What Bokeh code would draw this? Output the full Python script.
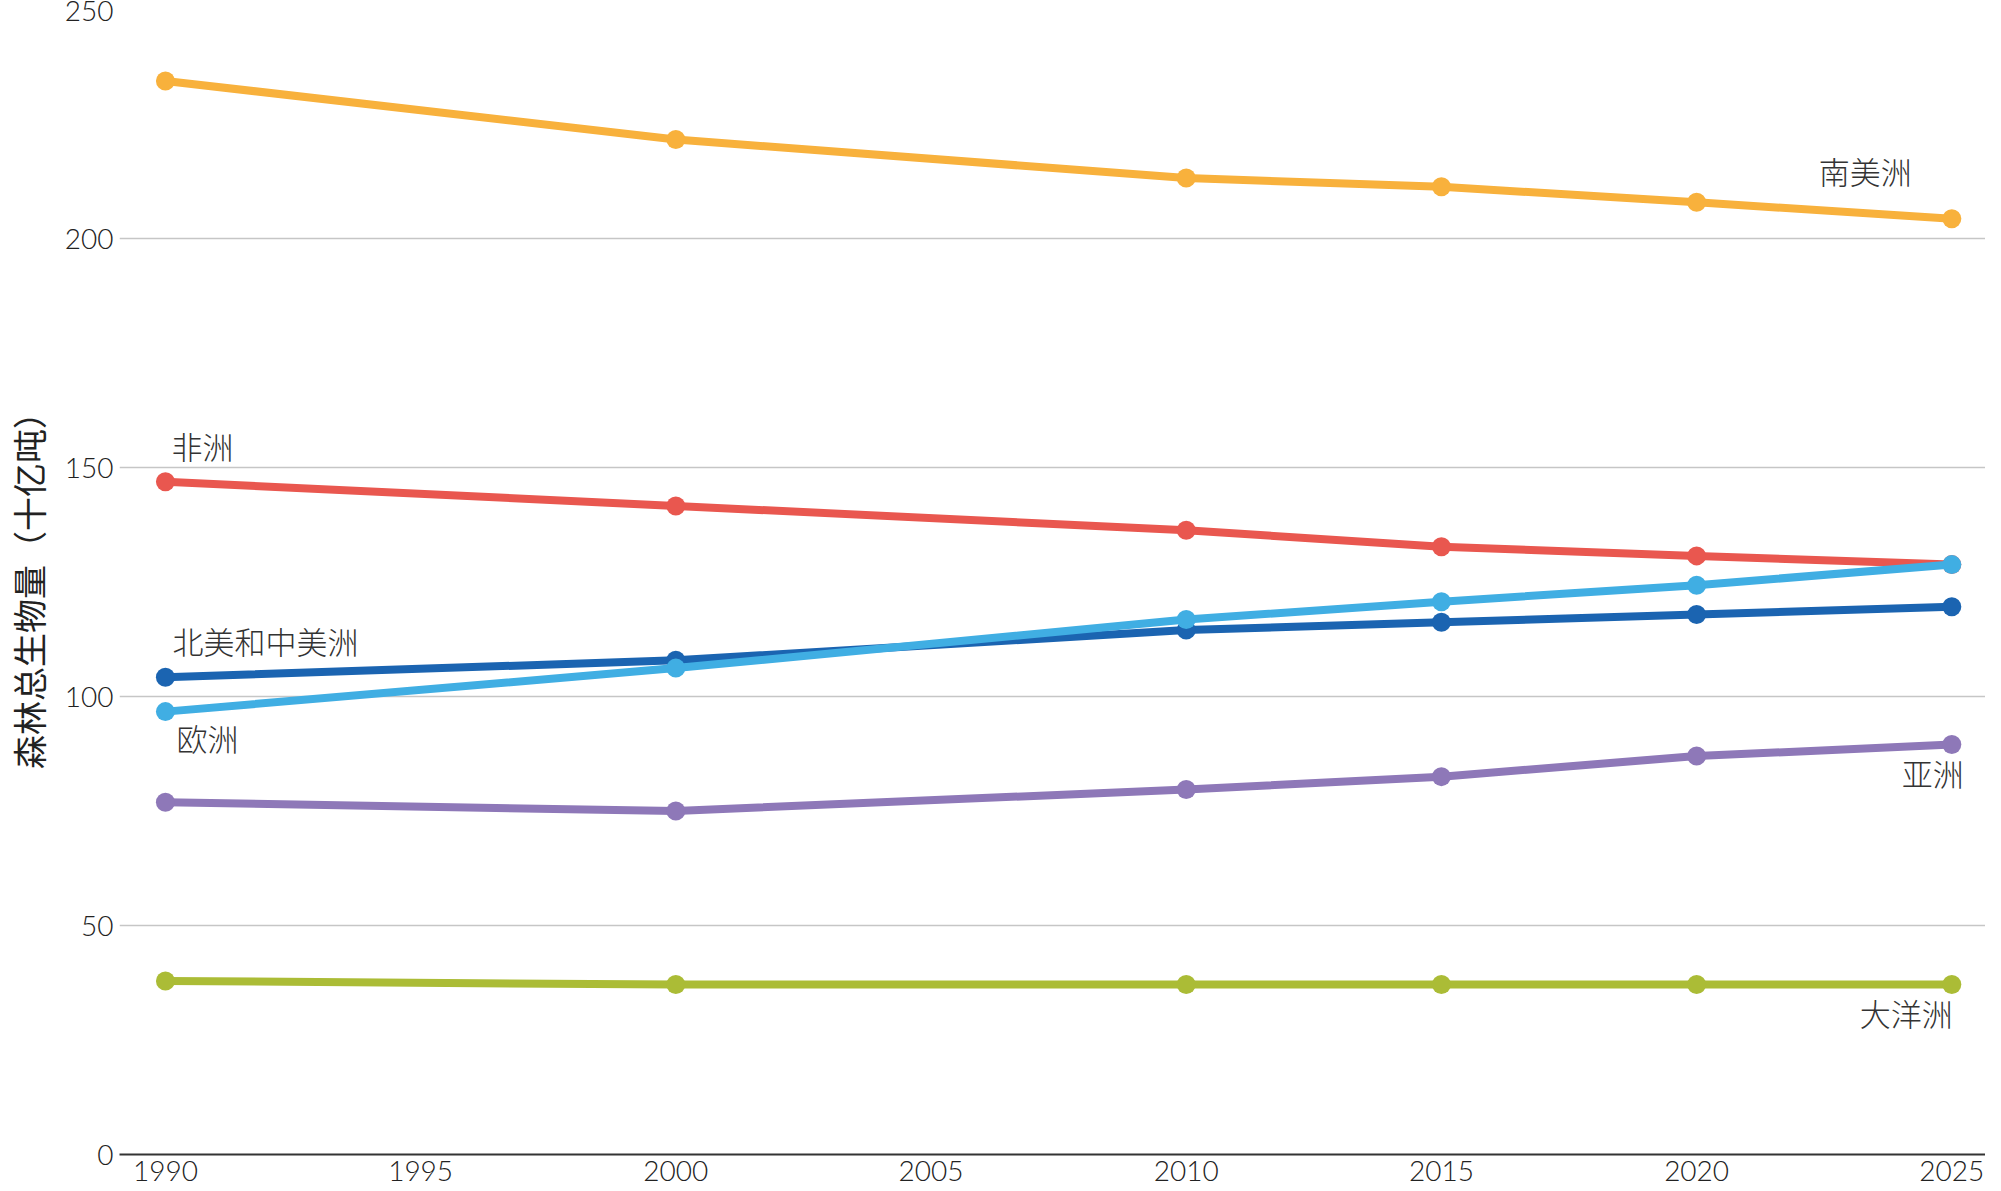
from bokeh.plotting import figure
from bokeh.models import Label, FixedTicker, Range1d
from bokeh.embed import file_html
from bokeh.resources import INLINE

years = [1990, 2000, 2010, 2015, 2020, 2025]
south_america = [234.4, 221.6, 213.2, 211.3, 207.9, 204.3]
africa = [146.9, 141.6, 136.3, 132.7, 130.7, 128.8]
north_central_america = [104.2, 107.9, 114.5, 116.2, 117.9, 119.6]
europe = [96.7, 106.2, 116.8, 120.7, 124.3, 128.8]
asia = [76.9, 75.0, 79.7, 82.5, 87.0, 89.5]
oceania = [37.9, 37.1, 37.1, 37.1, 37.1, 37.1]

names = ["南美洲", "非洲", "北美和中美洲", "欧洲", "亚洲", "大洋洲"]
x_ticks = [1990, 1995, 2000, 2005, 2010, 2015, 2020, 2025]
y_ticks = [0, 50, 100, 150, 200, 250]

series = [
    (south_america, "#F8B13C"),
    (africa, "#E9574F"),
    (north_central_america, "#1B64B1"),
    (europe, "#40AEE3"),
    (asia, "#8E78B8"),
    (oceania, "#ABBC36"),
]

TICK_FONT = "'Lato Light', Lato"
CJK_LIGHT = "'Noto Sans CJK SC Light', 'Noto Sans CJK SC'"

p = figure(width=1985, height=1183, output_backend="svg", toolbar_location=None,
           x_range=Range1d(1989.10, 2025.66), y_range=Range1d(0, 250),
           min_border_left=112, min_border_top=9, min_border_right=0,
           min_border_bottom=0)
p.outline_line_color = None
p.background_fill_color = "white"
p.border_fill_color = "white"

p.xgrid.visible = False
p.ygrid.ticker = FixedTicker(ticks=y_ticks)
p.ygrid.grid_line_color = "#c6c6c6"
p.ygrid.grid_line_width = 1.5

p.xaxis.ticker = FixedTicker(ticks=x_ticks)
p.xaxis.axis_line_color = "#333333"
p.xaxis.axis_line_width = 2
p.xaxis.major_tick_line_color = None
p.xaxis.minor_tick_line_color = None
p.xaxis.major_label_standoff = 0
p.xaxis.major_label_text_font = TICK_FONT
p.xaxis.major_label_text_font_size = "28px"
p.xaxis.major_label_text_color = "#222222"

p.yaxis.ticker = FixedTicker(ticks=y_ticks)
p.yaxis.axis_line_color = None
p.yaxis.major_tick_line_color = None
p.yaxis.minor_tick_line_color = None
p.yaxis.major_label_standoff = 0
p.yaxis.major_label_text_font = TICK_FONT
p.yaxis.major_label_text_font_size = "28px"
p.yaxis.major_label_text_color = "#222222"
p.yaxis.axis_label = "森林总生物量（十亿吨）"
p.yaxis.axis_label_text_font = "Noto Sans CJK SC"
p.yaxis.axis_label_text_font_size = "34px"
p.yaxis.axis_label_text_font_style = "normal"
p.yaxis.axis_label_text_color = "#222222"
p.yaxis.axis_label_standoff = 9

for vals, col in series:
    p.line(years, vals, line_color=col, line_width=8)
    p.scatter(years, vals, size=19, fill_color=col, line_color=None)

label_specs = [
    # name, values, anchor index, x_offset, y_offset, align
    (names[0], south_america, 5, -40, 48, "right"),
    (names[1], africa, 0, 6, 36, "left"),
    (names[2], north_central_america, 0, 7, 37, "left"),
    (names[3], europe, 0, 11, -26, "left"),
    (names[4], asia, 5, 12, -28, "right"),
    (names[5], oceania, 5, 1, -28, "right"),
]
for name, vals, idx, xo, yo, align in label_specs:
    p.add_layout(Label(x=years[idx], y=vals[idx], text=name, x_offset=xo, y_offset=yo,
                       text_align=align, text_baseline="middle",
                       text_font=CJK_LIGHT, text_font_size="31px",
                       text_color="#333333"))

open("out.html", "w").write(file_html(p, INLINE))
